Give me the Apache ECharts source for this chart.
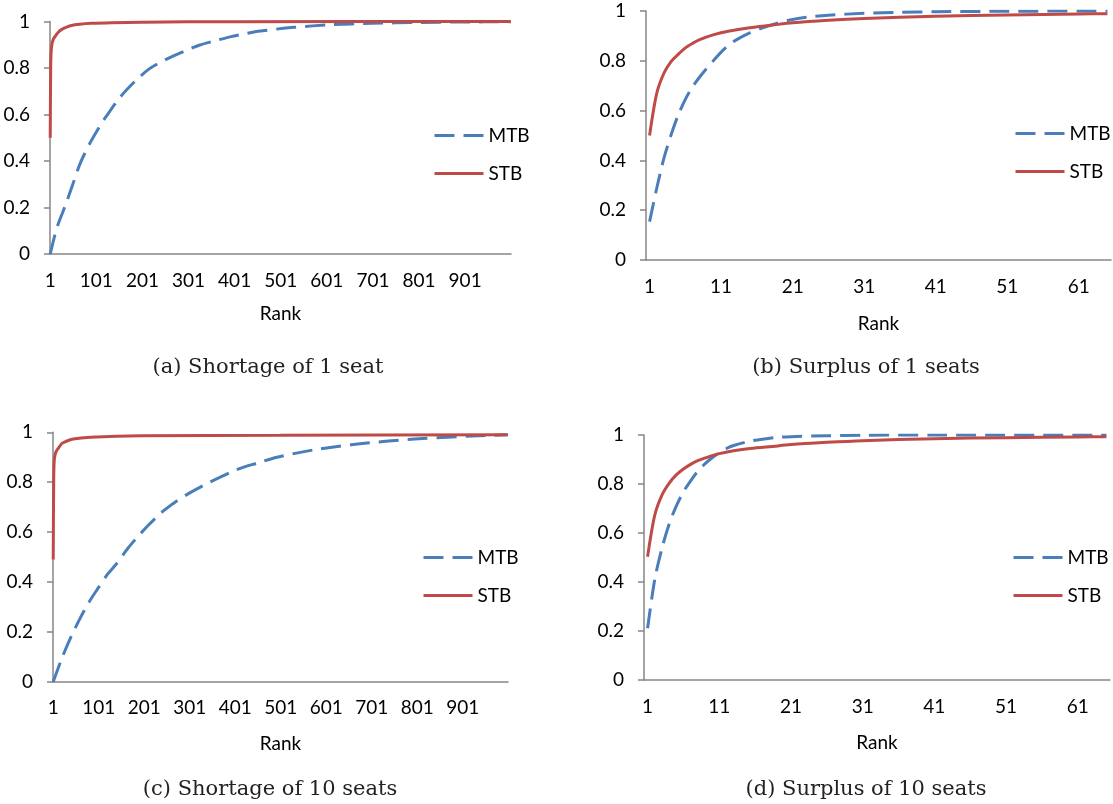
<!DOCTYPE html>
<html>
<head>
<meta charset="utf-8">
<script src="https://cdn.jsdelivr.net/npm/echarts@6/dist/echarts.min.js"></script>
<style>
  html, body { margin: 0; background: #fff; }
  #chart { width: 1113px; height: 804px; }
</style>
</head>
<body>
<div id="chart"></div>
<script>
  // number of ranks on each x axis
  const ranksLong = 1000;
  const ranksShort = 65;

  // (a) Shortage of 1 seat
  const aMtbRank = [1, 15, 32, 50, 66, 88, 110, 120, 153, 186, 215, 240, 266, 295, 324, 360, 391, 425, 457, 530, 610, 700, 800, 900, 1000];
  const aMtbVal = [0, 0.11, 0.2, 0.3, 0.39, 0.48, 0.555, 0.585, 0.675, 0.745, 0.795, 0.825, 0.85, 0.875, 0.898, 0.918, 0.934, 0.948, 0.959, 0.975, 0.986, 0.992, 0.996, 0.998, 0.999];
  const aStbRank = [1, 2, 3, 5, 8, 12, 18, 25, 45, 90, 200, 400, 1000];
  const aStbVal = [0.5, 0.8, 0.87, 0.905, 0.925, 0.937, 0.953, 0.965, 0.982, 0.992, 0.997, 0.999, 1];

  // (b) Surplus of 1 seats
  const bMtbRank = [1, 2, 3, 4, 5, 6, 7, 8, 9, 10, 11, 12, 13, 15, 17, 19, 21, 23, 26, 31, 36, 41, 51, 65];
  const bMtbVal = [0.154, 0.288, 0.408, 0.502, 0.582, 0.645, 0.695, 0.735, 0.77, 0.803, 0.835, 0.862, 0.882, 0.912, 0.934, 0.952, 0.966, 0.975, 0.983, 0.991, 0.995, 0.997, 0.999, 1];
  const bStbRank = [1, 2, 3, 4, 5, 6, 7, 8, 10, 12, 15, 18, 21, 26, 31, 41, 51, 61, 65];
  const bStbVal = [0.5, 0.669, 0.75, 0.797, 0.826, 0.852, 0.87, 0.885, 0.905, 0.919, 0.933, 0.943, 0.953, 0.963, 0.97, 0.979, 0.984, 0.988, 0.989];

  // (c) Shortage of 10 seats
  const cMtbRank = [1, 20, 40, 60, 80, 97, 120, 141, 163, 185, 210, 232, 248, 275, 304, 345, 404, 450, 493, 575, 656, 738, 812, 924, 1000];
  const cMtbVal = [0, 0.094, 0.18, 0.254, 0.32, 0.368, 0.43, 0.475, 0.53, 0.578, 0.627, 0.667, 0.692, 0.728, 0.76, 0.8, 0.85, 0.877, 0.9, 0.93, 0.95, 0.965, 0.975, 0.985, 0.99];
  const cStbRank = [1, 2, 3, 5, 8, 12, 20, 27, 45, 83, 194, 500, 1000];
  const cStbVal = [0.49, 0.8, 0.88, 0.91, 0.925, 0.936, 0.955, 0.962, 0.973, 0.98, 0.986, 0.988, 0.99];

  // (d) Surplus of 10 seats
  const dMtbRank = [1, 2, 3, 4, 5, 6, 7, 8, 9, 10, 11, 12, 13, 15, 17, 19, 21, 26, 31, 41, 65];
  const dMtbVal = [0.211, 0.41, 0.537, 0.636, 0.71, 0.768, 0.813, 0.852, 0.882, 0.907, 0.928, 0.945, 0.957, 0.973, 0.983, 0.99, 0.993, 0.997, 0.999, 1, 1];
  const dStbRank = [1, 2, 3, 4, 5, 6, 7, 8, 10, 11, 13, 15, 18, 21, 26, 31, 41, 51, 61, 65];
  const dStbVal = [0.503, 0.673, 0.755, 0.803, 0.837, 0.861, 0.88, 0.895, 0.916, 0.924, 0.936, 0.944, 0.952, 0.961, 0.97, 0.977, 0.985, 0.989, 0.992, 0.993];

  const captions = ['(a) Shortage of 1 seat', '(b) Surplus of 1 seats', '(c) Shortage of 10 seats', '(d) Surplus of 10 seats'];

  const blue = '#4a7ebb';
  const red = '#be4b48';
  const axisColor = '#868686';
  const font = 'Lato';
  const mtbDash = [20, 9];
  const lineWidth = 3;

  function rankCats(n) {
    const c = [];
    for (let i = 1; i <= n; i++) c.push(String(i));
    return c;
  }
  function pairs(ranks, vals) {
    return ranks.map((r, i) => [r - 1, vals[i]]);
  }

  const panels = [
    { grid: { left: 50, top: 21.5, width: 461, height: 232.5 }, n: ranksLong, step: 100, nameGap: 50,
      legend: { left: 433, top: 126 }, cap: [268, 368],
      mtb: pairs(aMtbRank, aMtbVal), stb: pairs(aStbRank, aStbVal) },
    { grid: { left: 646, top: 11, width: 465, height: 249 }, n: ranksShort, step: 10, nameGap: 54,
      legend: { left: 1014, top: 124 }, cap: [866, 368],
      mtb: pairs(bMtbRank, bMtbVal), stb: pairs(bStbRank, bStbVal) },
    { grid: { left: 53, top: 432.3, width: 455, height: 249.4 }, n: ranksLong, step: 100, nameGap: 53,
      legend: { left: 422, top: 548 }, cap: [270, 790],
      mtb: pairs(cMtbRank, cMtbVal), stb: pairs(cStbRank, cStbVal) },
    { grid: { left: 644, top: 435, width: 466, height: 245 }, n: ranksShort, step: 10, nameGap: 53,
      legend: { left: 1012, top: 548 }, cap: [866, 790],
      mtb: pairs(dMtbRank, dMtbVal), stb: pairs(dStbRank, dStbVal) }
  ];

  const lineAxis = { lineStyle: { color: axisColor, width: 1.5 } };
  const textStyle = { fontFamily: font, fontSize: 19, color: '#000' };

  const option = {
    animation: false,
    backgroundColor: '#fff',
    grid: [],
    xAxis: [],
    yAxis: [],
    legend: [],
    series: [],
    graphic: []
  };

  panels.forEach((p, i) => {
    option.grid.push(Object.assign({ containLabel: false }, p.grid));
    option.xAxis.push({
      gridIndex: i,
      type: 'category',
      data: rankCats(p.n),
      boundaryGap: true,
      name: 'Rank',
      nameLocation: 'middle',
      nameGap: p.nameGap,
      nameTextStyle: textStyle,
      axisLine: lineAxis,
      axisTick: { interval: p.step - 1, length: 6, lineStyle: { color: axisColor, width: 1.5 } },
      axisLabel: Object.assign({ interval: p.step - 1, margin: 17 }, textStyle),
      splitLine: { show: false }
    });
    option.yAxis.push({
      gridIndex: i,
      type: 'value',
      min: 0,
      max: 1,
      interval: 0.2,
      axisLine: Object.assign({ show: true }, lineAxis),
      axisTick: { show: true, length: 6, lineStyle: { color: axisColor, width: 1.5 } },
      axisLabel: Object.assign({ margin: 20 }, textStyle),
      splitLine: { show: false }
    });
    option.legend.push({
      data: [
        { name: 'MTB', itemStyle: { opacity: 0 }, lineStyle: { color: blue, width: lineWidth, type: mtbDash } },
        { name: 'STB', itemStyle: { opacity: 0 }, lineStyle: { color: red, width: lineWidth, type: 'solid' } }
      ],
      orient: 'vertical',
      left: p.legend.left,
      top: p.legend.top,
      padding: 0,
      itemWidth: 49,
      itemHeight: 14,
      itemGap: 19,
      selectedMode: false,
      textStyle: textStyle
    });
    option.series.push({
      name: 'MTB',
      type: 'line',
      xAxisIndex: i,
      yAxisIndex: i,
      data: p.mtb,
      symbol: 'none',
      smooth: 0.3,
      itemStyle: { color: blue },
      lineStyle: { color: blue, width: lineWidth, type: mtbDash }
    });
    option.series.push({
      name: 'STB',
      type: 'line',
      xAxisIndex: i,
      yAxisIndex: i,
      data: p.stb,
      symbol: 'none',
      smooth: 0.3,
      itemStyle: { color: red },
      lineStyle: { color: red, width: lineWidth }
    });
    option.graphic.push({
      type: 'text',
      x: p.cap[0],
      y: p.cap[1],
      style: {
        text: captions[i],
        font: '21px "DejaVu Serif"',
        fill: '#222',
        textAlign: 'center',
        textVerticalAlign: 'middle'
      }
    });
  });

  const chart = echarts.init(document.getElementById('chart'));
  chart.setOption(option);
</script>
</body>
</html>
